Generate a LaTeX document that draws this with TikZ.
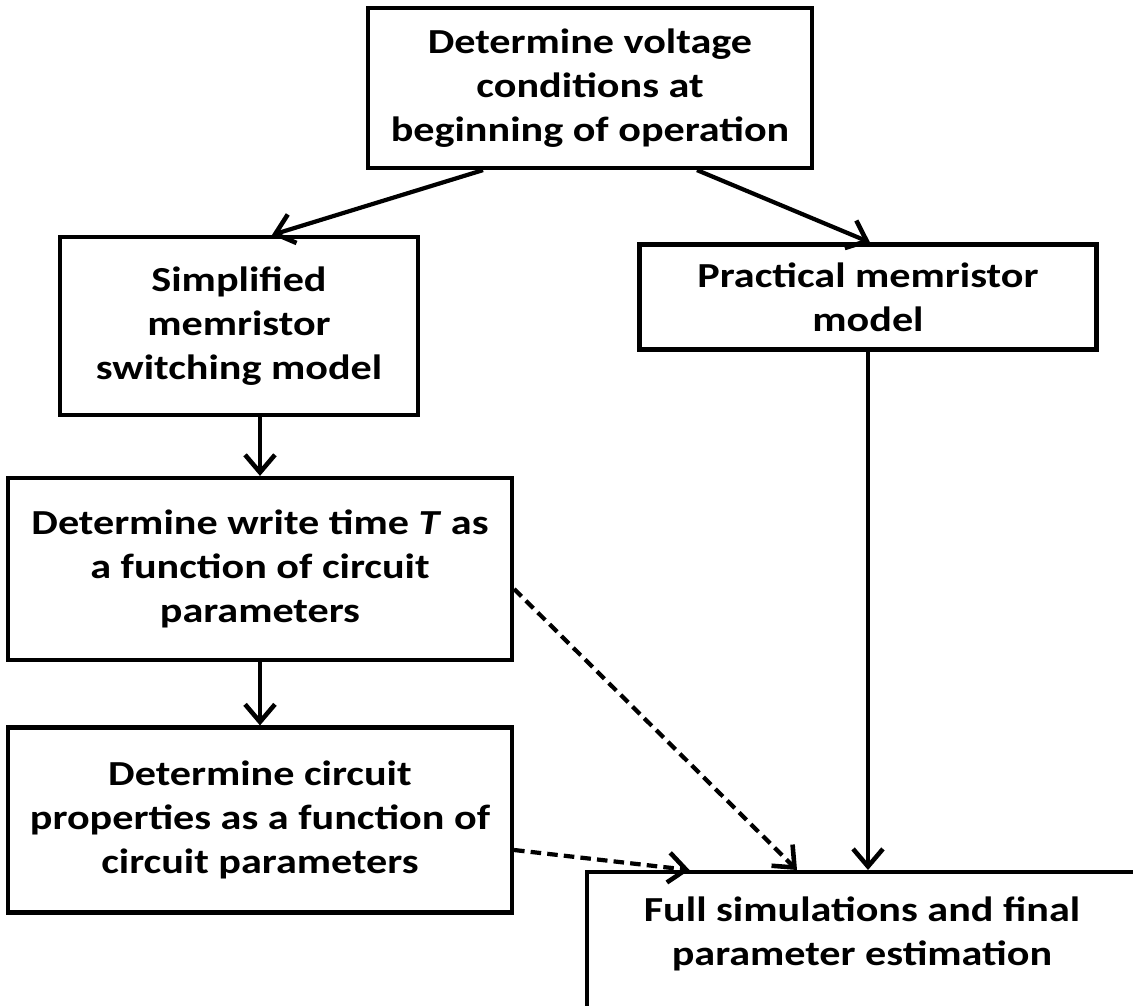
\documentclass[tikz,border=0pt]{standalone}
\usepackage{fontspec}
\setmainfont[FakeStretch=1.2]{Carlito}
\usetikzlibrary{positioning,arrows.meta}

\tikzset{
  stepbox/.style={draw, line width=2.4pt, align=center, inner sep=0pt,
    font=\bfseries\fontsize{20}{25}\selectfont},
  flow/.style={line width=2.4pt, -{Straight Barb[length=10pt,width=17pt,line width=2.6pt]}},
  dflow/.style={flow, dash pattern=on 6pt off 3.5pt}
}

\begin{document}
\begin{tikzpicture}[x=0.02cm,y=-0.02cm]
\clip (0,0) rectangle (1133,1005);

% boxes
\node[stepbox, minimum width=8.88cm, minimum height=3.2cm] (volt) at (590,88)
  {Determine voltage\\conditions at\\beginning of operation};
\node[stepbox, minimum width=7.16cm, minimum height=3.56cm] (simp) at (239,326)
  {Simplified\\memristor\\switching model};
\node[stepbox, minimum width=9.14cm, minimum height=2.1cm] (prac) at (868,297)
  {Practical memristor\\model};
\node[stepbox, minimum width=10.08cm, minimum height=3.64cm] (wtime) at (260,569)
  {Determine write time \textit{T} as\\a function of circuit\\parameters};
\node[stepbox, minimum width=10.08cm, minimum height=3.7cm] (circ) at (260,820)
  {Determine circuit\\properties as a function of\\circuit parameters};
\node[stepbox, anchor=north, minimum width=11cm, inner ysep=14pt] (full) at (862,870)
  {Full simulations and final\\parameter estimation\\[2cm]};

% connectors
\draw[flow] ([xshift=-2.14cm]volt.south) -- ([xshift=0.66cm]simp.north);
\draw[flow] ([xshift=2.14cm]volt.south) -- ([xshift=0.04cm]prac.north);
\draw[flow] (simp.south -| wtime.north) -- (wtime.north);
\draw[flow] (wtime.south) -- (circ.north);
\draw[flow] (prac.south) -- (prac.south |- full.north);
\draw[dflow] ([yshift=-0.4cm]wtime.east) -- ([xshift=-1.3cm]full.north);
\draw[dflow] ([yshift=-0.6cm]circ.east) -- ([xshift=-3.45cm]full.north);
\end{tikzpicture}
\end{document}
